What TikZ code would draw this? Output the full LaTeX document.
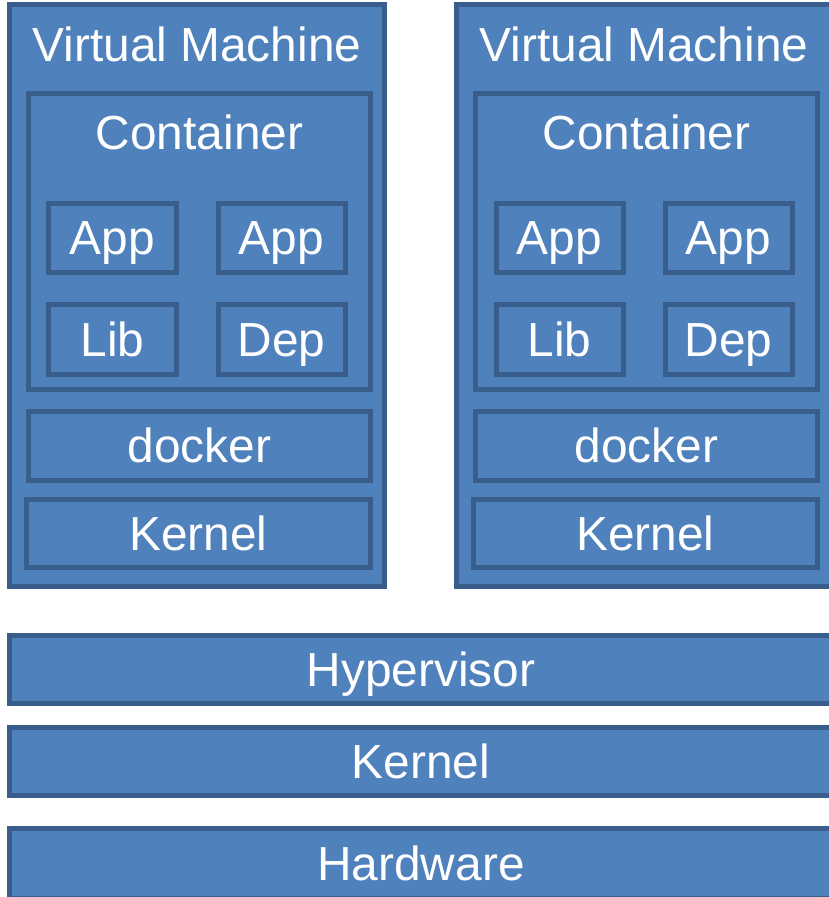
\documentclass[tikz,border=0pt]{standalone}
\usepackage{fontspec}
\setmainfont{Liberation Sans}
\definecolor{boxfill}{HTML}{4F81BD}
\definecolor{boxline}{HTML}{3A5E8C}
\begin{document}
\begin{tikzpicture}[x=1bp,y=-1bp,
  box/.style={draw=boxline, fill=boxfill, line width=5bp, inner sep=0pt,
    text=white, font=\fontsize{48}{56}\selectfont, text height=34bp, text depth=0pt},
  lbl/.style={text=white, font=\fontsize{48}{56}\selectfont, anchor=base, inner sep=0pt}]
\useasboundingbox (0,0) rectangle (829,897);
\fill[white] (0,0) rectangle (829,897);
% bottom layers
\node[box, minimum width=823bp, minimum height=68bp] (hyp) at (421,669.5) {Hypervisor};
\node[box, minimum width=823bp, minimum height=68bp] (hkern) at (421,761.5) {Kernel};
\node[box, minimum width=823bp, minimum height=69.5bp] (hw) at (421,863.25) {Hardware};
% virtual machines
\foreach \o/\s in {0/L,447/R}{
  \begin{scope}[xshift=\o bp]
  \node[box, minimum width=375bp, minimum height=582bp] (vm\s) at (197,295.5) {};
  \node[lbl] (vmlbl\s) at (197,61) {Virtual Machine};
  \node[box, minimum width=342bp, minimum height=296bp] (ct\s) at (199.5,241.5) {};
  \node[lbl] (ctlbl\s) at (199.5,149) {Container};
  \node[box, minimum width=127bp, minimum height=69bp] (appa\s) at (112.5,237.5) {App};
  \node[box, minimum width=127bp, minimum height=69bp] (appb\s) at (281.5,237.5) {App};
  \node[box, minimum width=127bp, minimum height=70bp] (lib\s) at (112.5,339) {Lib};
  \node[box, minimum width=127bp, minimum height=70bp] (dep\s) at (281.5,339) {Dep};
  \node[box, minimum width=342bp, minimum height=69bp] (dk\s) at (199.5,445.5) {docker};
  \node[box, minimum width=344bp, minimum height=68bp] (kn\s) at (198.5,533.5) {Kernel};
  \end{scope}
}
\end{tikzpicture}
\end{document}
